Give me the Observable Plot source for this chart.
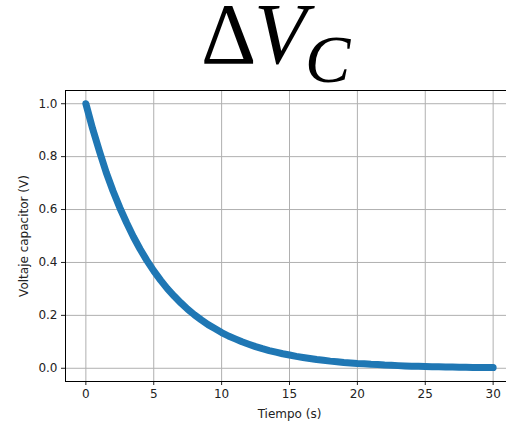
<!DOCTYPE html>
<html>
<head>
<meta charset="utf-8">
<script src="https://cdn.jsdelivr.net/npm/d3@7"></script>
<script src="https://cdn.jsdelivr.net/npm/@observablehq/plot@0.6"></script>
<style>
  html, body { margin: 0; padding: 0; background: #fff; overflow: hidden; width: 506px; height: 425px; }
  #title { position: absolute; left: 0; top: 0; overflow: visible; }
  #chart { position: absolute; left: 0; top: 85px; }
  #chart svg { max-width: none !important; }
</style>
</head>
<body>
<svg id="title" width="506" height="88" font-family="Liberation Serif, serif" fill="#000">
  <text x="201" y="63" font-size="86">&#916;</text>
  <text x="254" y="63" font-size="86" font-style="italic">V</text>
  <text x="305" y="82" font-size="68" font-style="italic">C</text>
</svg>
<div id="chart"></div>
<script>
const tiempo = [0,0.5,1,1.5,2,2.5,3,3.5,4,4.5,5,5.5,6,6.5,7,7.5,8,8.5,9,9.5,10,10.5,11,11.5,12,12.5,13,13.5,14,14.5,15,15.5,16,16.5,17,17.5,18,18.5,19,19.5,20,20.5,21,21.5,22,22.5,23,23.5,24,24.5,25,25.5,26,26.5,27,27.5,28,28.5,29,29.5,30];
const voltaje = [1.00,0.905,0.82,0.74,0.67,0.607,0.55,0.497,0.45,0.407,0.368,0.333,0.301,0.273,0.247,0.223,0.202,0.183,0.165,0.15,0.135,0.122,0.111,0.10,0.091,0.082,0.074,0.067,0.061,0.055,0.05,0.045,0.041,0.037,0.033,0.03,0.027,0.025,0.022,0.02,0.018,0.017,0.015,0.014,0.012,0.011,0.010,0.009,0.008,0.0074,0.0067,0.006,0.0055,0.005,0.0045,0.004,0.0037,0.0033,0.003,0.0027,0.0025];
const xTicks = [0,5,10,15,20,25,30];
const yTicks = [0.0,0.2,0.4,0.6,0.8,1.0];

const data = tiempo.map((t,i) => ({t, v: voltaje[i]}));

const chart = Plot.plot({
  width: 520,
  height: 340,
  marginLeft: 65,
  marginRight: 7,
  marginTop: 5,
  marginBottom: 44,
  style: {fontFamily: "DejaVu Sans", fontSize: "12px", color: "#222", background: "white", maxWidth: "none"},
  x: {domain: [-1.5, 31.5]},
  y: {domain: [-0.05, 1.05]},
  marks: [
    Plot.gridX(xTicks, {stroke: "#b0b0b0", strokeOpacity: 1, strokeWidth: 1}),
    Plot.gridY(yTicks, {stroke: "#b0b0b0", strokeOpacity: 1, strokeWidth: 1}),
    Plot.axisX(xTicks, {tickSize: 4, tickPadding: 4, fontSize: 12, tickFormat: d3.format("d"), label: "Tiempo (s)", labelAnchor: "center", labelArrow: "none", labelOffset: 36}),
    Plot.axisY(yTicks, {tickSize: 4, tickPadding: 4, fontSize: 12, tickFormat: d3.format(".1f"), label: "Voltaje capacitor (V)", labelAnchor: "center", labelArrow: "none", labelOffset: 46}),
    Plot.line(data, {x: "t", y: "v", stroke: "#1f77b4", strokeWidth: 7, strokeLinecap: "round", strokeLinejoin: "round"}),
    Plot.frame({stroke: "#000", strokeWidth: 1})
  ]
});
document.getElementById("chart").appendChild(chart);
</script>
</body>
</html>
